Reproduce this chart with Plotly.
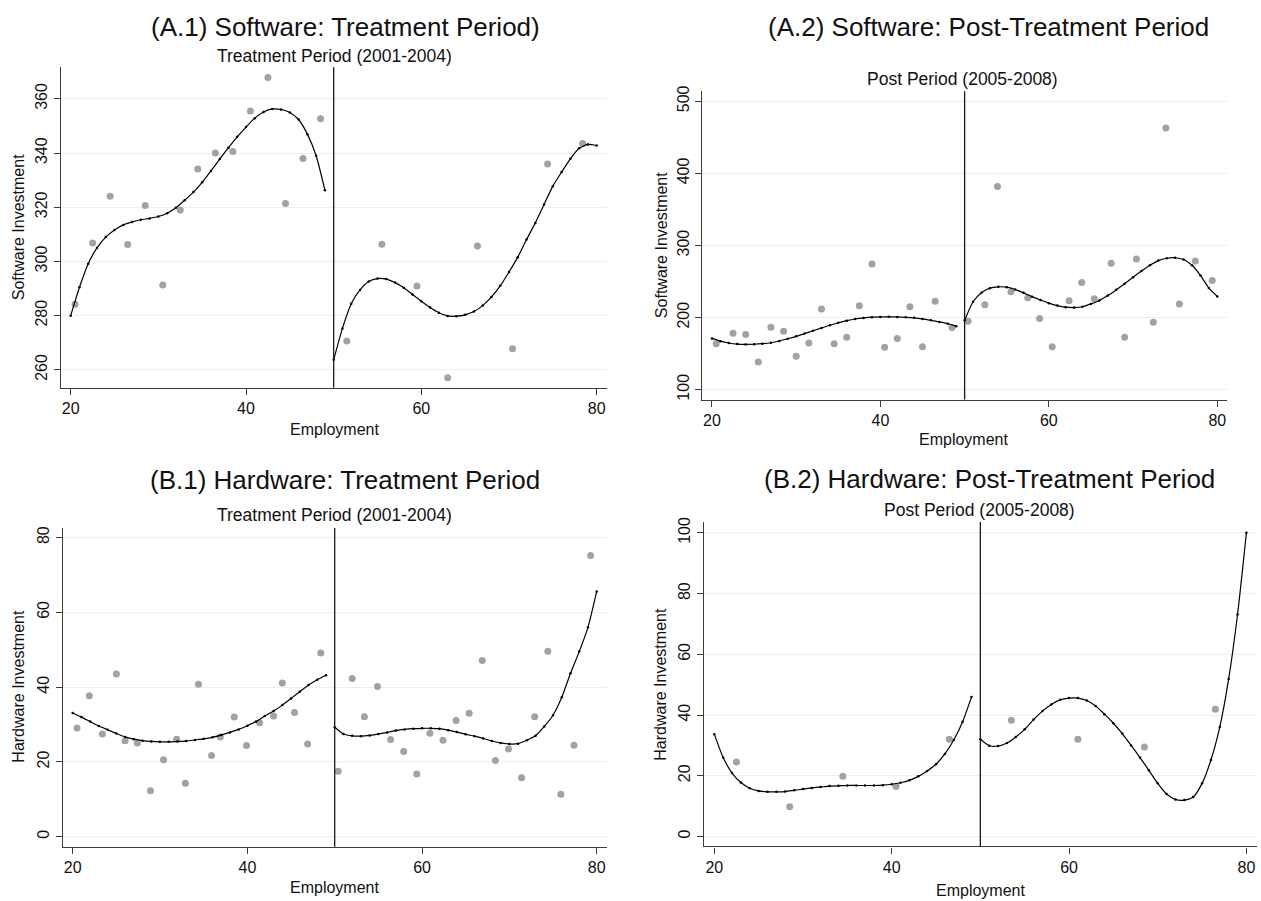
import plotly.graph_objects as go

W, H = 1261, 901
CUTOFF = 50

# ---------------- data ----------------
# (A.1) Software, treatment period
a1_x = [20.5, 22.5, 24.5, 26.5, 28.5, 30.5, 32.5, 34.5, 36.5, 38.5, 40.5, 42.5, 44.5, 46.5, 48.5,
        51.5, 55.5, 59.5, 63.0, 66.4, 70.4, 74.4, 78.4]
a1_y = [284.2, 306.8, 324.1, 306.3, 320.7, 291.3, 319.0, 334.1, 340.0, 340.6, 355.5, 367.9, 321.4, 338.0, 352.7,
        270.6, 306.4, 290.9, 257.1, 305.7, 267.8, 336.0, 343.5]
a1_fitL_x = [20, 21, 22, 23, 24, 25, 26, 27, 28, 29, 30, 31, 32, 33, 34, 35, 36, 37, 38, 39, 40, 41, 42, 43, 44, 45, 46, 47, 48, 49]
a1_fitL_y = [280.0, 290.5, 299.2, 305.0, 309.0, 311.6, 313.5, 314.6, 315.4, 315.9, 316.6, 317.8, 319.8, 322.6, 325.6,
             329.2, 333.4, 337.8, 342.0, 346.0, 349.6, 352.9, 355.2, 356.3, 356.1, 355.0, 352.4, 347.0, 339.0, 326.3]
a1_fitR_x = [50, 51, 52, 53, 54, 55, 56, 57, 58, 59, 60, 61, 62, 63, 64, 65, 66, 67, 68, 69, 70, 71, 72, 73, 74, 75, 76, 77, 78, 79, 80]
a1_fitR_y = [263.7, 275.3, 284.4, 289.5, 292.6, 293.7, 293.5, 292.2, 290.3, 287.8, 285.3, 283.0, 281.1, 279.9, 279.8,
             280.3, 281.5, 283.7, 286.9, 291.0, 296.1, 301.6, 308.1, 314.2, 321.0, 327.8, 333.0, 337.9, 341.8, 343.2, 342.8]

# (A.2) Software, post period
a2_x = [20.5, 22.5, 24.0, 25.5, 27.0, 28.5, 30.0, 31.5, 33.0, 34.5, 36.0, 37.5, 39.0, 40.5, 42.0, 43.5, 45.0, 46.5, 48.5,
        50.4, 52.4, 53.9, 55.5, 57.5, 58.9, 60.4, 62.4, 63.9, 65.4, 67.4, 69.0, 70.4, 72.4, 73.9, 75.5, 77.4, 79.4]
a2_y = [163.8, 178.4, 176.6, 138.5, 186.7, 181.2, 146.3, 164.7, 211.9, 163.8, 172.9, 216.5, 274.3, 158.7, 171.1, 215.1, 159.6, 222.5, 186.2,
        195.0, 217.9, 381.7, 235.8, 227.5, 198.6, 159.6, 223.4, 248.6, 226.1, 275.2, 172.9, 281.2, 193.6, 462.8, 218.8, 278.4, 251.5]
a2_fitL_x = [20, 21, 22, 23, 24, 25, 26, 27, 28, 29, 30, 31, 32, 33, 34, 35, 36, 37, 38, 39, 40, 41, 42, 43, 44, 45, 46, 47, 48, 49]
a2_fitL_y = [171.1, 167.3, 164.8, 163.3, 162.8, 163.0, 163.8, 165.1, 167.5, 170.6, 174.0, 177.8, 181.7, 185.6, 189.4,
             192.8, 195.7, 198.0, 199.5, 200.5, 200.9, 201.0, 200.9, 200.4, 199.6, 198.2, 196.2, 194.0, 191.5, 188.1]
a2_fitR_x = [50, 51, 52, 53, 54, 55, 56, 57, 58, 59, 60, 61, 62, 63, 64, 65, 66, 67, 68, 69, 70, 71, 72, 73, 74, 75, 76, 77, 78, 79, 80]
a2_fitR_y = [196.3, 222.0, 234.5, 240.8, 242.6, 242.2, 239.0, 234.3, 229.0, 224.3, 220.0, 216.6, 214.5, 213.9, 215.0,
             219.0, 223.8, 230.5, 238.5, 246.8, 256.0, 264.5, 272.5, 279.0, 282.3, 283.0, 280.5, 272.5, 258.5, 241.0, 229.4]

# (B.1) Hardware, treatment period
b1_x = [20.5, 21.9, 23.4, 25.0, 26.0, 27.4, 28.9, 30.4, 31.9, 32.9, 34.4, 35.9, 36.9, 38.5, 39.9, 41.4, 43.0, 44.0, 45.4, 46.9, 48.4,
        50.4, 52.0, 53.4, 54.9, 56.4, 57.9, 59.4, 60.9, 62.4, 63.9, 65.4, 66.9, 68.4, 69.9, 71.4, 72.9, 74.4, 75.9, 77.4, 79.3]
b1_y = [29.1, 37.7, 27.5, 43.5, 25.7, 25.1, 12.3, 20.6, 26.1, 14.3, 40.8, 21.7, 26.7, 32.0, 24.4, 30.5, 32.3, 41.1, 33.2, 24.8, 49.1,
        17.5, 42.3, 32.1, 40.2, 26.0, 22.8, 16.8, 27.7, 25.8, 31.1, 33.0, 47.1, 20.4, 23.5, 15.8, 32.1, 49.6, 11.4, 24.5, 75.2]
b1_fitL_x = [20, 21, 22, 23, 24, 25, 26, 27, 28, 29, 30, 31, 32, 33, 34, 35, 36, 37, 38, 39, 40, 41, 42, 43, 44, 45, 46, 47, 48, 49]
b1_fitL_y = [33.1, 32.0, 30.8, 29.6, 28.6, 27.6, 26.7, 26.1, 25.7, 25.5, 25.4, 25.4, 25.5, 25.6, 25.9, 26.2, 26.6, 27.2, 27.9, 28.7,
             29.7, 30.8, 32.3, 33.6, 35.2, 37.0, 38.8, 40.6, 42.0, 43.2]
b1_fitR_x = [50, 51, 52, 53, 54, 55, 56, 57, 58, 59, 60, 61, 62, 63, 64, 65, 66, 67, 68, 69, 70, 71, 72, 73, 74, 75, 76, 77, 78, 79, 80]
b1_fitR_y = [29.3, 27.5, 27.0, 26.9, 27.1, 27.5, 27.9, 28.4, 28.7, 28.9, 29.0, 29.0, 28.9, 28.5, 28.0, 27.4, 26.9, 26.3, 25.6, 25.1,
             24.8, 24.9, 25.8, 27.0, 29.5, 32.5, 37.3, 43.7, 49.5, 56.0, 65.6]

# (B.2) Hardware, post period
b2_x = [22.5, 28.5, 34.5, 40.5, 46.5, 53.5, 61.0, 68.5, 76.5]
b2_y = [24.5, 9.8, 19.8, 16.5, 32.0, 38.3, 32.0, 29.5, 41.9]
b2_fitL_x = [20, 21, 22, 23, 24, 25, 26, 27, 28, 29, 30, 31, 32, 33, 34, 35, 36, 37, 38, 39, 40, 41, 42, 43, 44, 45, 46, 47, 48, 49]
b2_fitL_y = [33.7, 26.0, 20.9, 17.8, 15.9, 15.0, 14.7, 14.7, 14.8, 15.2, 15.6, 16.0, 16.3, 16.6, 16.7, 16.8, 16.8, 16.8, 16.8, 16.9,
             17.2, 17.7, 18.5, 19.8, 21.6, 23.8, 27.2, 31.8, 37.8, 45.9]
b2_fitR_x = [50, 51, 52, 53, 54, 55, 56, 57, 58, 59, 60, 61, 62, 63, 64, 65, 66, 67, 68, 69, 70, 71, 72, 73, 74, 75, 76, 77, 78, 79, 80]
b2_fitR_y = [32.0, 29.9, 29.8, 30.8, 32.8, 35.3, 38.5, 41.3, 43.5, 45.0, 45.6, 45.6, 44.8, 43.0, 40.3, 37.3, 33.9, 30.0, 26.0, 21.8,
             17.5, 14.0, 12.2, 12.0, 13.0, 17.5, 25.2, 36.1, 51.9, 73.1, 100.0]

titles = ["(A.1) Software: Treatment Period)", "(A.2) Software: Post-Treatment Period",
          "(B.1) Hardware: Treatment Period", "(B.2) Hardware: Post-Treatment Period"]
subtitles = ["Treatment Period (2001-2004)", "Post Period (2005-2008)",
             "Treatment Period (2001-2004)", "Post Period (2005-2008)"]
ytitles = ["Software Investment", "Software Investment", "Hardware Investment", "Hardware Investment"]
xtitle = "Employment"
x_ticks = [20, 40, 60, 80]
y_ticks = [[260, 280, 300, 320, 340, 360], [100, 200, 300, 400, 500],
           [0, 20, 40, 60, 80], [0, 20, 40, 60, 80, 100]]

# ---------------- layout geometry (pixels) ----------------
panels = [
    dict(frame=(60.7, 607.0, 61.7, 384.7), xr=(18.86, 81.18), yr=(253.4, 371.7),
         title=(345, 21), sub=(334, 50), ytl=(18, 223), xtl=(334, 427)),
    dict(frame=(702.3, 1227.3, 86.0, 396.7), xr=(18.85, 81.19), yr=(86.24, 513.76),
         title=(988, 21), sub=(963, 74), ytl=(661, 241), xtl=(964, 437)),
    dict(frame=(62.7, 606.7, 526.0, 847.3), xr=(18.855, 81.145), yr=(-2.65, 82.57),
         title=(345, 478), sub=(334, 513), ytl=(19, 686), xtl=(334, 888)),
    dict(frame=(704.0, 1256.7, 520.0, 847.0), xr=(18.84, 81.16), yr=(-3.27, 103.59),
         title=(989, 477), sub=(979, 508), ytl=(661, 684), xtl=(980, 891)),
]
series = [
    (a1_x, a1_y, [(a1_fitL_x, a1_fitL_y), (a1_fitR_x, a1_fitR_y)]),
    (a2_x, a2_y, [(a2_fitL_x, a2_fitL_y), (a2_fitR_x, a2_fitR_y)]),
    (b1_x, b1_y, [(b1_fitL_x, b1_fitL_y), (b1_fitR_x, b1_fitR_y)]),
    (b2_x, b2_y, [(b2_fitL_x, b2_fitL_y), (b2_fitR_x, b2_fitR_y)]),
]

FONT = "Liberation Sans, Arial, Helvetica, sans-serif"
AXCOL = "#3c3c3c"
GRIDCOL = "#e8f0f2"
PTCOL = "#a2a2a2"

def px(x):
    return x / W

def py(y):
    return 1 - y / H

fig = go.Figure()
layout = dict(width=W, height=H, margin=dict(l=0, r=0, t=0, b=0),
              paper_bgcolor="white", plot_bgcolor="white", showlegend=False,
              font=dict(family=FONT, color="#111"))
annotations = []
shapes = []

for i, (p, (sx, sy, fits)) in enumerate(zip(panels, series)):
    k = "" if i == 0 else str(i + 1)
    xa, ya = "x" + k, "y" + k
    l, r, t, b = p["frame"]
    layout["xaxis" + k] = dict(domain=[px(l), px(r)], range=list(p["xr"]), anchor=ya,
                               tickvals=x_ticks, ticks="outside", ticklen=6, tickwidth=1.3,
                               tickcolor=AXCOL, showline=True, linecolor=AXCOL, linewidth=1.3,
                               showgrid=False, zeroline=False,
                               tickfont=dict(size=16, family=FONT, color="#111"))
    layout["yaxis" + k] = dict(domain=[py(b), py(t)], range=list(p["yr"]), anchor=xa,
                               tickvals=y_ticks[i], ticks="outside", ticklen=6, tickwidth=1.3,
                               tickcolor=AXCOL, showline=True, linecolor=AXCOL, linewidth=1.3,
                               showgrid=True, gridcolor=GRIDCOL, gridwidth=1.3, zeroline=False,
                               tickangle=-90,
                               tickfont=dict(size=16, family=FONT, color="#111"))
    fig.add_trace(go.Scatter(x=sx, y=sy, mode="markers", xaxis=xa, yaxis=ya,
                             marker=dict(size=7, color=PTCOL), hoverinfo="skip"))
    for fx, fy in fits:
        fig.add_trace(go.Scatter(x=fx, y=fy, mode="lines+markers", xaxis=xa, yaxis=ya,
                                 line=dict(color="black", width=1.2, shape="spline", smoothing=0.6),
                                 marker=dict(size=2.5, color="black"), hoverinfo="skip"))
    shapes.append(dict(type="line", xref=xa, yref=ya + " domain", x0=CUTOFF, x1=CUTOFF, y0=0, y1=1,
                       line=dict(color="#1a1a1a", width=1.3)))
    tx, ty = p["title"]
    annotations.append(dict(text=titles[i], x=px(tx), y=py(ty), xref="paper", yref="paper",
                            xanchor="center", yanchor="middle", showarrow=False,
                            font=dict(size=26, family=FONT, color="#111")))
    sx_, sy_ = p["sub"]
    annotations.append(dict(text=subtitles[i], x=px(sx_), y=py(sy_), xref="paper", yref="paper",
                            xanchor="center", yanchor="middle", showarrow=False,
                            font=dict(size=17.5, family=FONT, color="#111")))
    yx, yy = p["ytl"]
    annotations.append(dict(text=ytitles[i], x=px(yx), y=py(yy), xref="paper", yref="paper",
                            xanchor="center", yanchor="middle", showarrow=False, textangle=-90,
                            font=dict(size=16, family=FONT, color="#111")))
    ex, ey = p["xtl"]
    annotations.append(dict(text=xtitle, x=px(ex), y=py(ey), xref="paper", yref="paper",
                            xanchor="center", yanchor="middle", showarrow=False,
                            font=dict(size=16, family=FONT, color="#111")))

layout["annotations"] = annotations
layout["shapes"] = shapes
fig.update_layout(**layout)
fig.write_html("out.html", config={"displayModeBar": False},
               post_script="document.body.style.margin='0';document.body.style.overflow='hidden';")
